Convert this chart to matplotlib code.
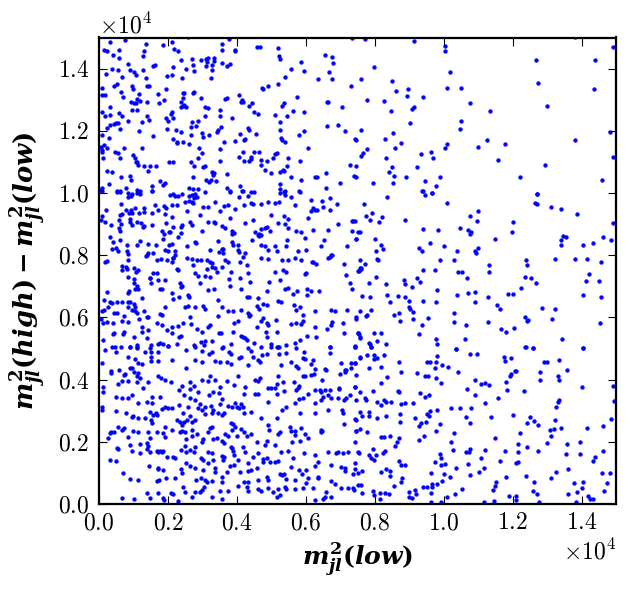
import numpy as np
import matplotlib
matplotlib.use("Agg")
import matplotlib.pyplot as plt

# m2_jl(low), m2_jl(high) - m2_jl(low), split by region
upper_left = [
    (320, 14850), (750, 14920), (1350, 14790), (1855, 14770), (2115, 14850), (2590, 15000),
    (3560, 14800), (3770, 14950), (150, 14600), (240, 14550), (580, 14600), (415, 14440),
    (580, 14330), (1310, 14550), (1265, 14410), (2170, 14630), (2300, 14580), (3580, 14610),
    (3960, 14600), (3960, 14550), (4570, 14700), (4660, 14700), (5180, 14650), (7350, 14980),
    (6570, 14440), (6770, 14380), (6790, 14170), (5210, 14390), (5245, 14310), (5870, 14220),
    (5940, 13920), (850, 14150), (370, 14000), (190, 13830), (540, 13940), (910, 13970),
    (1020, 13900), (1070, 13800), (1285, 13970), (1555, 14090), (1620, 14120), (1360, 13700),
    (670, 13720), (2135, 14050), (1960, 13760), (2125, 13780), (2380, 14280), (2510, 13990),
    (2700, 14310), (2730, 14120), (2750, 13920), (2960, 14280), (3100, 14300), (3140, 14220),
    (3100, 14070), (3330, 14350), (3350, 14250), (3160, 14330), (3265, 14120), (3275, 13950),
    (3245, 13710), (3560, 14180), (3710, 14070), (3800, 14150), (2400, 13710), (5560, 13990),
    (5390, 13730), (6350, 13680), (6770, 13680), (6675, 13890), (80, 13390), (425, 13440),
    (530, 13510), (80, 13150), (180, 13150), (630, 13250), (695, 13090), (950, 13440),
    (975, 13340), (1170, 13190), (1100, 13030), (1380, 13450), (1450, 13440), (1950, 13330),
    (1700, 13190), (1740, 12900), (1890, 13000), (2425, 13220), (2470, 13220), (2450, 13070),
    (2730, 13200), (2760, 13240), (2950, 13040), (3660, 13030), (3710, 13050), (4050, 13150),
    (4140, 12980), (4180, 12920), (4740, 13390), (4750, 13330), (4890, 13450), (5180, 13510),
    (5750, 13100), (7320, 13450), (320, 12750), (80, 12620), (180, 12480), (320, 12510),
    (570, 12580), (560, 12260), (435, 12230), (490, 12260), (670, 12470), (830, 12330),
    (940, 12940), (1020, 12900), (1060, 12890), (950, 12680), (1090, 12680), (1190, 12960),
    (1380, 12910), (1380, 12490), (1240, 12270), (1450, 12360), (1950, 12400), (1990, 12330),
    (2110, 12610), (2135, 12420), (2080, 12550), (2380, 12760), (2370, 12940), (2430, 12810),
    (2470, 12830), (2510, 12780), (2685, 12270), (2860, 12320), (2820, 12160), (3080, 12750),
    (3170, 12730), (3070, 12460), (3520, 12670), (3500, 12460), (3850, 12420), (4130, 12940),
    (4360, 12810), (4440, 12900), (4500, 12600), (4620, 12530), (5110, 12510), (5320, 12810),
    (5370, 12890), (5450, 12460), (5620, 12640), (5940, 12620), (6620, 12920), (6650, 12940),
    (7060, 12750), (80, 11870), (310, 12190), (240, 12080), (600, 12060), (290, 11780),
    (145, 11550), (1150, 12000), (1555, 11840), (1960, 12060), (2230, 12030), (2380, 11960),
    (2670, 11880), (2670, 12130), (3000, 11940), (3020, 11810), (3180, 11850), (3430, 11970),
    (3460, 12020), (3545, 12130), (4100, 11910), (4310, 12100), (4350, 12030), (4550, 11900),
    (5255, 12030), (5265, 12270), (5270, 11760), (5310, 11700), (5810, 11880), (5940, 12000),
    (6620, 12160), (6945, 12200), (7150, 12000), (7440, 11730), (60, 11490), (80, 11390),
    (100, 11310), (240, 11450), (450, 11330), (550, 11290), (720, 11440), (1240, 11460),
    (2140, 11750), (2250, 11650), (2260, 11610), (2450, 11640), (2610, 11590), (2900, 11460),
    (3000, 11300), (3500, 11430), (3620, 11650), (3950, 11660), (4220, 11700), (4250, 11740),
    (4190, 11330), (4050, 11170), (4510, 11320), (4640, 11330), (5120, 11270), (5150, 11280),
    (5390, 11630), (6070, 11460), (110, 11120), (990, 11220), (1050, 11120), (1060, 11010),
    (1100, 10990), (600, 11140), (1140, 10900), (1300, 10870), (1480, 10880), (1410, 10720),
    (1660, 10870), (2030, 10990), (2140, 11010), (2670, 11000), (2760, 10880), (2870, 11140),
    (3030, 10820), (3080, 10880), (3500, 11040), (4200, 11030), (4400, 11100), (4420, 11170),
    (4360, 11040), (4690, 11050), (4860, 11030), (4700, 10910), (5060, 11140), (5490, 11140),
    (5450, 10860), (5370, 10720), (5820, 11030), (7290, 10910), (7450, 10860), (220, 10720),
    (370, 10670), (640, 10500), (280, 10300), (100, 10150), (50, 10110), (520, 10050),
    (620, 10060), (780, 10170), (890, 10560), (930, 10410), (1090, 10110), (1200, 10050),
    (1550, 10240), (1530, 10080), (1780, 10370), (1860, 10250), (1910, 10320), (2140, 9970),
    (2060, 9940), (2620, 10150), (2740, 10130), (2870, 10140), (2740, 10530), (3100, 10410),
    (3180, 10360), (3240, 10410), (3390, 10400), (3290, 10690), (3330, 10630), (3300, 10580),
    (3720, 10150), (3790, 10080), (3710, 10600), (4100, 10240), (4160, 10080), (4490, 10020),
    (4830, 10740), (4990, 10650), (5240, 10660), (5350, 10730), (5245, 10300), (5255, 10120),
    (5390, 10060), (5580, 10500), (5870, 10430), (5810, 10080), (6270, 10530), (6320, 10530),
    (6580, 10160), (6600, 10630), (6980, 10330), (7410, 10540),
]

upper_right = [
    (7710, 14950), (9130, 14900), (10030, 14740), (10030, 14580), (7980, 14050), (7610, 13680),
    (8510, 13600), (8630, 13290), (8975, 13360), (8950, 13130), (9410, 13100), (7790, 13000),
    (8280, 12970), (8460, 12650), (9090, 12710), (9130, 12750), (9030, 12260), (10190, 13900),
    (10100, 13390), (10510, 13390), (10750, 12880), (11350, 12650), (10510, 12330), (10480, 12070),
    (7610, 12040), (7450, 11720), (8310, 11750), (8540, 11940), (8770, 11620), (8600, 11460),
    (7790, 11400), (7650, 11300), (7610, 11200), (8340, 11140), (10100, 11590), (10030, 11460),
    (10990, 11490), (11270, 11690), (11790, 11560), (11580, 11070), (9350, 11240), (9640, 11330),
    (9700, 11140), (9240, 10820), (8510, 10850), (8400, 10690), (8570, 10560), (8540, 10330),
    (7940, 10330), (7450, 10530), (8920, 10530), (9470, 10400), (9900, 10530), (9790, 10240),
    (9380, 10080), (9670, 10010), (12220, 10500), (12950, 10910), (12710, 9980), (12690, 14290),
    (12740, 13550), (13000, 12810), (13820, 15000), (14400, 14290), (14370, 13330), (14920, 14680),
    (13820, 11720), (14830, 11970), (14920, 11170), (14600, 10430),
]

middle_left = [
    (80, 10080), (510, 10040), (610, 10040), (850, 10010), (930, 9900), (830, 9860),
    (970, 9970), (1110, 10010), (1190, 9970), (1530, 10070), (2200, 9900), (2300, 9900),
    (2420, 9970), (2610, 9900), (2700, 9940), (2780, 9970), (2750, 9840), (2620, 9750),
    (2710, 9720), (2840, 9860), (3070, 10040), (3790, 10040), (4050, 9880), (4180, 10070),
    (4330, 9900), (4420, 10040), (5250, 9990), (5370, 10040), (5390, 9940), (5580, 9860),
    (5820, 10040), (6140, 9780), (6470, 9750), (6690, 9830), (640, 9650), (200, 9450),
    (80, 9260), (60, 9130), (610, 9290), (660, 9330), (780, 9450), (870, 9350),
    (930, 9450), (970, 9350), (1040, 9510), (1170, 9350), (1310, 9510), (1310, 9400),
    (1620, 9620), (1530, 9350), (1720, 9450), (1890, 9590), (1940, 9510), (1910, 9330),
    (2130, 9620), (2270, 9600), (2130, 9240), (2500, 9720), (2540, 9430), (2740, 9670),
    (2940, 9290), (3010, 9560), (3170, 9560), (3360, 9720), (3510, 9430), (3630, 9580),
    (3750, 9620), (3790, 9190), (3940, 9480), (4200, 9620), (4400, 9690), (4470, 9650),
    (4700, 9650), (4910, 9720), (5000, 9290), (5110, 9670), (5220, 9720), (5360, 9260),
    (5680, 9620), (6050, 9190), (6140, 9430), (6210, 9510), (6260, 9450), (6330, 9450),
    (6490, 9540), (6690, 9450), (6910, 9650), (7350, 9110), (7380, 9110), (340, 8970),
    (170, 9080), (580, 9130), (630, 9000), (890, 9150), (900, 9080), (950, 8980),
    (1090, 9080), (1220, 9050), (1290, 8900), (1300, 8950), (1530, 8980), (1820, 8770),
    (1880, 8680), (1940, 9030), (2050, 8740), (2150, 8900), (2380, 8900), (2380, 8700),
    (2400, 8970), (2630, 9060), (2710, 8960), (3000, 8790), (3150, 9080), (3340, 9080),
    (3360, 9030), (3580, 8940), (3670, 8860), (3850, 8790), (3870, 8680), (3920, 8700),
    (4230, 9030), (4470, 9130), (4520, 8750), (4640, 8680), (4700, 8640), (4690, 8830),
    (4830, 8880), (4870, 8920), (4970, 8790), (5200, 9050), (5390, 9000), (5490, 8870),
    (5710, 8790), (5470, 9150), (5850, 8730), (5990, 8540), (6220, 8810), (6650, 8810),
    (6940, 9000), (7350, 8770), (7520, 8750), (610, 8790), (590, 8870), (320, 8600),
    (420, 8440), (610, 8490), (800, 8340), (390, 8190), (490, 8220), (540, 8150),
    (850, 8030), (810, 8120), (1090, 8330), (1190, 8470), (1430, 8360), (1570, 8080),
    (1430, 8060), (1360, 7980), (1640, 8330), (1860, 8520), (2030, 8740), (2040, 8330),
    (2110, 8360), (2300, 8600), (1910, 8170), (1990, 8150), (2200, 8010), (2200, 8140),
    (2140, 7900), (2550, 8280), (2780, 8440), (2800, 8380), (3220, 8170), (3440, 8460),
    (3480, 8100), (3560, 8190), (3610, 8210), (3610, 8060), (3850, 8440), (3880, 8330),
    (4040, 8330), (4040, 8170), (4060, 8090), (4250, 8080), (4440, 8490), (4620, 8650),
    (4650, 8630), (4710, 8330), (4910, 8170), (4830, 8300), (5150, 8140), (5120, 8300),
    (5460, 8490), (5440, 8310), (5780, 8150), (6000, 8170), (6450, 8300), (6530, 8490),
    (6700, 7950), (6740, 8010), (7200, 8280), (7470, 8520), (170, 7790), (230, 7820),
    (660, 7650), (660, 7530), (780, 7630), (820, 7560), (850, 7850), (1010, 7580),
    (1070, 7470), (1140, 7530), (1380, 8010), (1670, 7850), (1490, 7280), (1670, 7440),
    (1570, 7420), (1790, 7870), (1980, 7830), (2110, 7790), (2150, 7900), (2250, 7550),
    (2300, 7530), (2550, 7920), (2690, 7870), (2830, 7850), (2960, 7850), (2730, 7680),
    (3130, 7830), (3220, 7790), (3270, 7760), (3120, 7550), (3270, 7630), (3360, 7580),
    (3410, 7470), (3560, 7630), (3670, 7830), (3750, 7790), (3830, 7470), (4100, 7790),
    (4190, 7950), (4280, 7670), (4330, 7440), (4700, 7900), (4890, 7880), (5310, 7830),
    (5490, 7830), (5680, 7900), (5870, 7850), (6020, 7420), (5990, 7390), (6210, 7790),
    (6170, 7790), (6310, 7720), (6650, 7900), (6770, 8000), (7110, 7720), (7160, 7360),
    (7520, 7500), (7560, 7580), (5100, 7470), (5340, 7530), (5440, 7470), (5250, 7200),
    (220, 6830), (140, 6570), (850, 7290), (1020, 7230), (1010, 7100), (1090, 7010),
    (880, 6860), (850, 6800), (1050, 6900), (1120, 6900), (1240, 6610), (1480, 7280),
    (1510, 7120), (1720, 7200), (1910, 7200), (1770, 6900), (1820, 6900), (2110, 6800),
    (2350, 7120), (2420, 7010), (2380, 6990), (2620, 6670), (2590, 6710), (2320, 6670),
    (2790, 7420), (2880, 7330), (2920, 7120), (3070, 7330), (3220, 7290), (3340, 6900),
    (3170, 6880), (3770, 7230), (3790, 7010), (4100, 7260), (4380, 7150), (4280, 6670),
    (4350, 6650), (4130, 6900), (4620, 6610), (4860, 6840), (4930, 7140), (5410, 6900),
    (5470, 6940), (5740, 6860), (6040, 6900), (6160, 6860), (6380, 6860), (6030, 6730),
    (5630, 6740), (7270, 7120), (7350, 6900), (80, 6220), (140, 6240), (320, 6510),
    (270, 6350), (390, 6450), (510, 6480), (660, 6510), (830, 6480), (900, 6480),
    (1020, 6430), (1040, 6350), (1040, 6190), (950, 6240), (850, 6330), (730, 6050),
    (510, 6130), (440, 6150), (1090, 6150), (1310, 6220), (1410, 6000), (1770, 6100),
    (1820, 6080), (1910, 6350), (2150, 6580), (2490, 6330), (2570, 6370), (2640, 6020),
    (2780, 6350), (3020, 6370), (3070, 6260), (3460, 6560), (3560, 6350), (3460, 6050),
    (3730, 6190), (3890, 6190), (4120, 6240), (4330, 6150), (4380, 6080), (4340, 6050),
    (4590, 6370), (4650, 6260), (4760, 6430), (4880, 6400), (5200, 6540), (5290, 6480),
    (5660, 6400), (5730, 6240), (5840, 6350), (5920, 6080), (6260, 6190), (6720, 6240),
    (6840, 6220), (7200, 6240), (7470, 6020), (130, 5810), (60, 5940), (230, 5860),
    (420, 5830), (660, 5900), (850, 5860), (1170, 5950), (1390, 6000), (1240, 5680),
    (1430, 5600), (1240, 5540), (1690, 5810), (1820, 5760), (2110, 5700), (1960, 5600),
    (2300, 5720), (2430, 5830), (2130, 5490), (2320, 5380), (2380, 5410), (2660, 5790),
    (2830, 5620), (3000, 5520), (3170, 5700), (3220, 5760), (3270, 5240), (3480, 5490),
    (3540, 5510), (3890, 5540), (3920, 5830), (4040, 5890), (4180, 5380), (4230, 5330),
    (4280, 5270), (4570, 5680), (4700, 5900), (4760, 5970), (4860, 5810), (4910, 5760),
    (4840, 5540), (5170, 5540), (5130, 5920), (5560, 5790), (5730, 5810), (5870, 5780),
    (5920, 5890), (6030, 5410), (6280, 5700), (6610, 5640), (6760, 5860), (6740, 5760),
    (7090, 5830), (7110, 5510), (7520, 5510), (7560, 5360), (130, 5270), (400, 5460),
    (440, 5490), (690, 5470), (730, 5540), (1020, 5380), (900, 5060), (1090, 5110),
    (1090, 5040), (1400, 5350), (1510, 5110), (1720, 5150), (1770, 5170), (1860, 5140),
    (2010, 5090), (2250, 5150), (2750, 5120), (3040, 5110), (3080, 5250), (2960, 5220),
    (3600, 5040), (3830, 5150), (4130, 5410), (4500, 5190), (4710, 5060), (4860, 5380),
    (4980, 5150), (5150, 5060), (5230, 5040), (5420, 5110), (5680, 5190), (5820, 5270),
    (6310, 5380), (6690, 5060), (7420, 5080), (390, 5060), (640, 5060),
]

middle_right = [
    (8370, 9880), (9400, 10070), (9450, 9920), (9670, 10010), (7680, 9650), (10100, 9690),
    (7420, 9100), (7740, 9270), (7850, 9140), (7910, 9370), (8110, 9080), (8220, 9240),
    (8890, 9140), (7570, 8760), (7470, 8530), (8000, 8530), (8030, 8120), (8190, 8340),
    (8250, 8200), (8080, 7870), (8090, 7830), (7570, 7830), (7710, 7730), (7590, 7600),
    (7530, 7500), (7600, 7570), (9410, 8850), (9850, 8820), (9590, 8400), (9270, 8240),
    (9380, 8150), (10020, 8310), (9900, 7830), (9410, 7540), (9760, 7540), (9240, 7280),
    (9320, 7150), (8850, 7210), (8870, 7060), (9090, 6990), (8320, 7080), (7820, 7120),
    (8050, 7310), (7640, 6700), (7870, 6640), (8370, 6730), (8430, 6510), (8680, 6700),
    (8890, 6670), (9000, 6540), (8990, 6330), (9010, 6260), (9120, 6170), (8710, 6150),
    (8570, 6090), (8720, 5900), (9120, 5960), (9540, 5990), (9380, 5740), (9290, 5480),
    (9820, 6890), (9770, 6510), (9410, 6540), (10770, 9270), (11010, 9430), (10960, 9110),
    (10460, 8890), (10710, 8820), (10800, 8730), (10760, 8690), (11500, 8530), (10990, 8240),
    (10920, 8150), (10950, 8080), (10400, 8150), (10300, 7860), (10420, 7470), (10520, 7470),
    (10690, 7280), (10400, 6730), (10720, 6800), (10900, 6830), (10910, 6510), (11290, 6670),
    (11310, 7700), (11310, 7470), (11550, 6410), (11640, 6280), (11300, 5860), (10310, 6150),
    (10310, 5860), (10660, 5740), (11670, 5640), (11820, 5540), (12050, 5670), (12370, 6020),
    (12430, 5900), (12460, 5930), (12010, 9080), (11990, 8760), (12710, 9970), (12650, 9690),
    (12720, 9650), (13120, 9560), (13410, 9470), (13870, 9310), (14920, 9050), (13460, 8630),
    (13550, 8600), (13400, 8500), (13410, 8340), (14030, 8340), (14340, 8400), (14630, 8570),
    (14860, 8500), (13240, 7890), (13820, 7890), (14160, 7890), (14570, 7790), (12400, 7830),
    (12410, 7700), (12360, 7310), (12520, 7280), (12690, 7120), (12250, 6960), (11870, 6750),
    (12020, 6750), (14220, 7410), (14120, 7180), (14050, 6730), (14510, 7180), (14570, 6640),
    (12860, 6310), (13240, 6280), (13150, 5960), (14530, 5830), (13440, 5320), (14050, 5030),
    (12370, 5060), (12600, 5030), (10610, 5320), (10370, 5000), (9820, 5160), (9790, 5320),
    (8340, 5160), (8190, 5510), (7990, 5510), (8080, 5250), (7840, 5190), (7860, 5160),
    (7900, 5060), (7510, 5510), (7540, 5470), (7580, 5350), (7420, 5060), (7470, 5960),
    (7580, 6190), (7760, 6060), (7790, 6090), (7900, 6250),
]

lower_left = [
    (170, 4950), (460, 5060), (480, 4880), (900, 5060), (1090, 5030), (1330, 4880),
    (1480, 5030), (1510, 4900), (1720, 4880), (1990, 5080), (2510, 4950), (2780, 5060),
    (2980, 4920), (3200, 4810), (3280, 4880), (3580, 5030), (3780, 4880), (3820, 4810),
    (4060, 4710), (4130, 4740), (4310, 5030), (4420, 4920), (4480, 4740), (4620, 4630),
    (4740, 4790), (5000, 5060), (5180, 5060), (5220, 4810), (5440, 4850), (5710, 5010),
    (5950, 4900), (5930, 4710), (5990, 4660), (6210, 4630), (6690, 5060), (6690, 4850),
    (7420, 5060), (80, 4520), (850, 4740), (1040, 4660), (1140, 4520), (1240, 4490),
    (1510, 4740), (1510, 4600), (1720, 4600), (2110, 4630), (2520, 4380), (2780, 4630),
    (3000, 4560), (3360, 4600), (3510, 4580), (3700, 4580), (3830, 4490), (4330, 4470),
    (4670, 4580), (4860, 4810), (5270, 4470), (5560, 4560), (5730, 4450), (5780, 4360),
    (6140, 4490), (6260, 4340), (6600, 4310), (6570, 4340), (7030, 4520), (7130, 4310),
    (7300, 4520), (7420, 4520), (7560, 4710), (350, 4280), (350, 4200), (580, 4310),
    (730, 4150), (750, 4170), (900, 4380), (970, 4360), (1020, 4260), (1090, 4100),
    (1140, 4200), (1190, 4060), (850, 3960), (660, 3960), (560, 3870), (130, 3770),
    (130, 3610), (1090, 3930), (1720, 4100), (1790, 4040), (1910, 4000), (2090, 3930),
    (1430, 3930), (2320, 3670), (2400, 3810), (2640, 3910), (2640, 3690), (2760, 3810),
    (2880, 3610), (2980, 3990), (3220, 4100), (3170, 3960), (3360, 3990), (3510, 3770),
    (3700, 3960), (3920, 3830), (4040, 4130), (4230, 3770), (4520, 3990), (4600, 3960),
    (4670, 4040), (4910, 3740), (5150, 3850), (5180, 4100), (5120, 3740), (5000, 3740),
    (5340, 3930), (5370, 3630), (5660, 3930), (5730, 3670), (5800, 3810), (5920, 4130),
    (5990, 4100), (6160, 4150), (6230, 4170), (6280, 3670), (6480, 3990), (6420, 3670),
    (6550, 3670), (6690, 3670), (6970, 3700), (7000, 4170), (7180, 4310), (7150, 4260),
    (7300, 4360), (7420, 3770), (480, 3450), (680, 3400), (850, 3400), (970, 3510),
    (1140, 3240), (1290, 3720), (1380, 3270), (1530, 3450), (1550, 3240), (1770, 3450),
    (1910, 3130), (2010, 3080), (2130, 3080), (2320, 3180), (2470, 3510), (2640, 3420),
    (2590, 3130), (2780, 3340), (2930, 3210), (3070, 3130), (3190, 3510), (3250, 3160),
    (3310, 3610), (3480, 3560), (3510, 3210), (3560, 3380), (3750, 3160), (3850, 3130),
    (3940, 3240), (4180, 3130), (4210, 3530), (4520, 3530), (4600, 3530), (4890, 3290),
    (5150, 3530), (5440, 3130), (5680, 3240), (5800, 3380), (5920, 3420), (6070, 3530),
    (6280, 3240), (6450, 3340), (6500, 3450), (6650, 3510), (6740, 3400), (6920, 3400),
    (7110, 3340), (7180, 3400), (7270, 3510), (7450, 3340), (6960, 3720), (6450, 3610),
    (5780, 3740), (100, 3130), (100, 3020), (480, 2990), (770, 2920), (950, 2810),
    (1000, 2840), (1140, 2780), (1330, 2760), (1480, 2970), (1510, 2700), (1530, 2590),
    (1570, 2860), (1640, 2920), (1670, 2860), (1820, 3060), (2250, 2700), (2350, 2650),
    (2420, 2540), (2470, 2630), (2540, 2700), (2440, 2920), (2640, 2840), (2690, 2650),
    (2780, 2700), (2880, 3080), (2980, 3020), (3070, 2880), (3270, 2920), (3310, 3020),
    (3460, 2920), (3560, 2860), (3630, 2920), (3830, 2590), (3890, 2560), (3990, 3130),
    (4060, 3080), (4130, 3210), (4210, 2920), (4420, 2970), (4710, 2760), (4910, 2540),
    (5150, 2780), (5320, 3020), (5830, 2920), (5870, 2450), (6260, 2920), (6450, 2380),
    (6450, 2300), (6630, 3020), (7060, 3020), (7080, 2920), (7110, 2560), (7470, 2700),
    (7560, 2970), (270, 2130), (320, 2270), (350, 2300), (440, 2300), (540, 2460),
    (680, 2380), (730, 2430), (850, 2170), (1000, 2350), (1140, 2300), (1190, 1920),
    (1380, 1950), (1410, 2300), (1480, 2110), (1670, 2300), (1860, 2270), (1910, 2460),
    (1910, 2170), (2110, 2380), (2350, 2300), (2420, 2350), (2490, 2330), (2510, 2090),
    (2690, 2200), (2710, 2380), (2830, 2240), (2980, 1980), (3020, 2080), (3170, 2300),
    (3220, 2430), (3270, 2490), (3310, 2090), (3410, 2130), (3560, 2030), (3630, 1950),
    (3670, 2240), (3730, 2200), (3850, 2380), (3940, 2460), (3990, 2200), (4130, 2410),
    (4210, 2300), (4280, 2200), (4420, 2240), (4570, 1980), (4830, 1900), (4860, 2030),
    (4930, 2380), (5100, 1900), (5180, 2240), (5250, 2300), (5540, 2490), (5560, 2350),
    (5680, 2350), (5700, 2220), (5610, 2000), (5830, 2030), (5990, 2240), (6070, 2130),
    (6470, 2350), (7470, 2350), (7440, 2000), (320, 1420), (480, 1380), (510, 1790),
    (560, 1770), (900, 1900), (970, 1700), (1190, 1630), (1380, 1770), (1430, 1880),
    (1480, 1660), (1670, 1700), (1720, 1660), (1770, 1700), (1820, 1660), (1860, 1700),
    (1960, 1520), (2150, 1520), (2200, 1490), (2380, 1740), (2490, 1880), (2510, 1660),
    (2640, 1740), (2760, 1680), (2780, 1840), (2960, 1470), (3020, 1420), (3170, 1660),
    (3270, 1630), (3310, 1420), (3560, 1550), (3600, 1420), (3630, 1520), (3830, 1840),
    (3860, 1790), (3890, 1700), (3920, 1580), (4040, 1420), (4180, 1840), (4230, 1680),
    (4330, 1310), (4470, 1520), (4620, 1630), (4760, 1360), (4760, 1450), (4860, 1470),
    (4960, 1340), (5100, 1340), (5180, 1380), (5290, 1660), (5470, 1700), (5630, 1470),
    (5950, 1630), (6260, 1580), (6360, 1340), (6630, 1660), (6890, 1630), (6940, 1660),
    (7080, 1630), (7230, 1660), (7520, 1660), (700, 990), (900, 800), (1140, 770),
    (1450, 1230), (1700, 1170), (1720, 1130), (1860, 1090), (1930, 830), (1740, 770),
    (1670, 740), (2200, 830), (2380, 1130), (2420, 990), (2510, 1310), (2640, 1230),
    (2780, 1170), (2810, 770), (2960, 850), (3020, 1090), (3070, 770), (3170, 1310),
    (3360, 1170), (3380, 1040), (3270, 740), (3560, 720), (3570, 880), (3700, 1020),
    (3800, 1230), (3920, 1250), (4090, 1040), (4210, 720), (4310, 700), (4330, 1060),
    (4420, 1090), (4570, 1150), (4620, 770), (4860, 880), (4910, 770), (5250, 950),
    (5310, 930), (5370, 950), (5440, 800), (5580, 1200), (5680, 770), (5800, 1090),
    (5890, 950), (6020, 1090), (6070, 850), (6260, 1230), (6340, 880), (6360, 850),
    (6720, 1250), (6720, 740), (6840, 630), (7010, 1200), (7130, 1150), (7150, 1060),
    (7370, 950), (7420, 1130), (660, 180), (1020, 150), (1380, 340), (1480, 200),
    (1720, 340), (1860, 180), (1890, 130), (2140, 310), (2090, 340), (2300, 100),
    (2430, 560), (2490, 400), (2710, 240), (2780, 380), (2930, 400), (2980, 450),
    (3050, 560), (3120, 720), (3270, 240), (3510, 420), (3580, 160), (3750, 420),
    (4040, 590), (4280, 560), (4310, 420), (4600, 480), (4710, 420), (4910, 500),
    (5050, 400), (5180, 480), (5150, 240), (5250, 290), (5390, 560), (5440, 480),
    (5680, 480), (5920, 500), (6000, 660), (6210, 530), (6260, 130), (6500, 160),
    (6550, 240), (6600, 400), (6740, 240), (7030, 530), (7230, 500), (7370, 500),
    (7400, 450), (7520, 610),
]

lower_right = [
    (7900, 5060), (7570, 4740), (7790, 4790), (7970, 4790), (7970, 4660), (8080, 4710),
    (8260, 4790), (8690, 4580), (7420, 4520), (7470, 4150), (7820, 4380), (8190, 4420),
    (8370, 4080), (8170, 3900), (7420, 3770), (7570, 3610), (7960, 3630), (7760, 3340),
    (7710, 3420), (7830, 2970), (7830, 2840), (7640, 2840), (8080, 3290), (8170, 3180),
    (8260, 3340), (8340, 3270), (8340, 2840), (8480, 3290), (8670, 3630), (8710, 3610),
    (8770, 4260), (9220, 4220), (9300, 3580), (9470, 3450), (9570, 3510), (8750, 3220),
    (8890, 3250), (9120, 3250), (7420, 2730), (7470, 2360), (7580, 2410), (7790, 2330),
    (8080, 2780), (8740, 2890), (8740, 2650), (9180, 2780), (9280, 2520), (9350, 2620),
    (9500, 2650), (9530, 2880), (9580, 2830), (9610, 3000), (9820, 3030), (9890, 2580),
    (9430, 2200), (9280, 2070), (9790, 2360), (8170, 2170), (8260, 2170), (8450, 2200),
    (8710, 2130), (8640, 2000), (8580, 1880), (7960, 1770), (8050, 1590), (7830, 1590),
    (7900, 1490), (7970, 1430), (8230, 1650), (8290, 1700), (7530, 1650), (7420, 1330),
    (7500, 990), (7640, 1070), (8190, 1040), (8320, 1130), (8450, 1060), (8430, 910),
    (8710, 1390), (8770, 1270), (8890, 1270), (8800, 850), (8770, 720), (8550, 590),
    (7610, 620), (7640, 360), (7960, 430), (7980, 300), (8140, 360), (8310, 360),
    (8410, 330), (8150, 170), (8990, 400), (9000, 240), (9090, 190), (9160, 450),
    (9210, 330), (9400, 560), (9530, 560), (9650, 560), (9640, 360), (9670, 650),
    (9640, 1010), (9740, 1360), (9890, 1620), (9930, 1490), (9910, 1270), (10030, 1300),
    (10010, 980), (10170, 880), (9960, 750), (9810, 650), (9640, 80), (9930, 80),
    (10110, 240), (10320, 330), (10540, 490), (10120, 4420), (9950, 4470), (9790, 4580),
    (9820, 4760), (9760, 4380), (9790, 4060), (9930, 3900), (9530, 4580), (9610, 4580),
    (9470, 4100), (9550, 4130), (10370, 4980), (10750, 4820), (10980, 4820), (10430, 4260),
    (10690, 3710), (10900, 4000), (10920, 3510), (10800, 3100), (10660, 2810), (10770, 2620),
    (10480, 3100), (10220, 3100), (10310, 2280), (10220, 2000), (10280, 1750), (10370, 1170),
    (10660, 1680), (10730, 1680), (10770, 1780), (10720, 1280), (10750, 940), (11070, 1490),
    (11030, 1040), (11170, 1170), (11210, 1750), (11190, 3260), (11090, 3850), (11190, 3900),
    (11320, 3830), (11380, 2810), (11500, 2130), (11640, 1380), (11570, 3420), (11760, 4730),
    (11770, 4610), (11960, 4710), (11820, 3930), (11830, 3680), (11930, 4130), (11960, 4180),
    (12060, 4290), (12110, 4290), (12020, 2870), (12220, 2280), (12160, 1940), (12160, 1680),
    (12160, 1360), (12110, 1330), (11770, 1720), (11800, 880), (11530, 720), (11480, 590),
    (11440, 450), (12100, 270), (12110, 120), (11900, 270), (11170, 80), (11460, 110),
    (12380, 5060), (12600, 5030), (12320, 3640), (12410, 2620), (12510, 2810), (12610, 2680),
    (12730, 2550), (12420, 1830), (12380, 910), (12610, 720), (12590, 430), (12710, 320),
    (12730, 1700), (12780, 80), (12920, 4580), (13010, 4580), (12800, 4260), (12800, 4000),
    (13350, 4640), (13570, 4320), (13320, 4100), (13350, 4000), (13350, 3360), (13310, 3290),
    (13260, 3130), (13220, 2710), (13390, 2450), (13210, 2420), (13090, 2390), (13120, 2200),
    (13000, 1970), (13580, 1940), (13560, 1620), (13620, 1140), (13250, 1040), (13100, 850),
    (13620, 330), (13770, 690), (13870, 400), (14050, 720), (14020, 530), (14190, 270),
    (14340, 170), (14240, 170), (13840, 80), (13950, 2000), (13970, 1620), (14040, 5030),
    (14020, 3770), (14170, 2450), (14340, 1390), (14400, 1520), (14600, 1010), (14830, 1010),
    (14740, 690), (14660, 430), (14630, 1720), (14630, 2520), (14860, 2730), (14950, 3320),
    (14920, 3810),
]

pts = np.array(upper_left + upper_right + middle_left + middle_right + lower_left + lower_right)
m_low = pts[:, 0]
m_diff = pts[:, 1]

plt.rcParams["font.family"] = "serif"
plt.rcParams["font.serif"] = ["cmr10"]
plt.rcParams["mathtext.fontset"] = "cm"
plt.rcParams["axes.formatter.use_mathtext"] = True
# bold italic math for the axis labels only (used through math_fontfamily="custom")
plt.rcParams["mathtext.rm"] = "DejaVu Serif:bold"
plt.rcParams["mathtext.it"] = "DejaVu Serif:italic:bold"
plt.rcParams["mathtext.bf"] = "DejaVu Serif:bold"

fig = plt.figure(figsize=(6.3, 5.94), dpi=100)
ax = fig.add_axes([99 / 630, 90 / 594, 517 / 630, 466.5 / 594])

ax.plot(m_low, m_diff, ".", color="#0000ff", ms=5.5, mew=0.3, mec="#0000ff")

ax.set_xlim(0, 15000)
ax.set_ylim(0, 15000)
ax.set_xticks(np.arange(0, 15000, 2000))
ax.set_yticks(np.arange(0, 15001, 2000))
ax.ticklabel_format(style="sci", scilimits=(0, 0), useMathText=True)
ax.tick_params(direction="in", length=5.5, width=0.8, top=True, right=True,
               labelsize=17)
ax.tick_params(axis="x", pad=6)
ax.tick_params(axis="y", pad=7)
ax.xaxis.get_offset_text().set_fontsize(17)
ax.yaxis.get_offset_text().set_fontsize(17)
for s in ax.spines.values():
    s.set_linewidth(1.6)

ax.set_xlabel(r"$m^2_{jl}(low)$", fontsize=18, labelpad=4, math_fontfamily="custom")
ax.set_ylabel(r"$m^2_{jl}(high)-m^2_{jl}(low)$", fontsize=18.5, labelpad=7,
              math_fontfamily="custom")

fig.savefig("out.png", dpi=100)
